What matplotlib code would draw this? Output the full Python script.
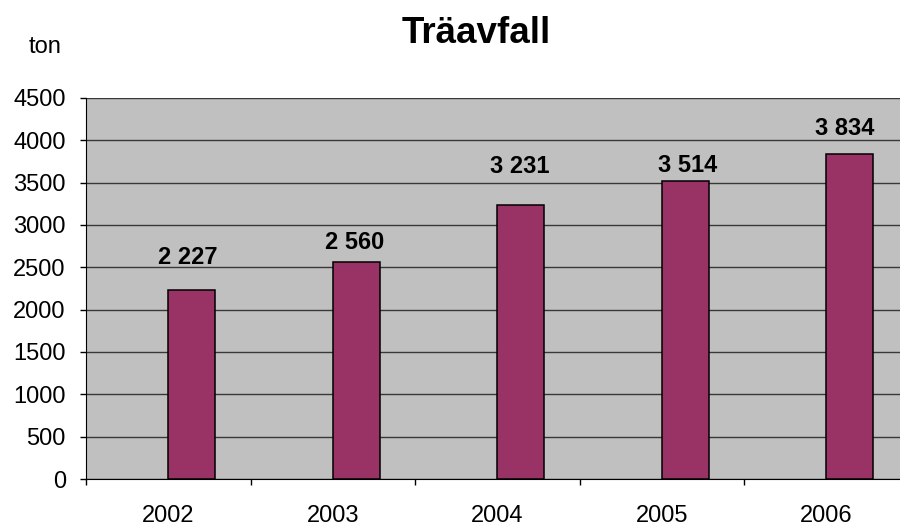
import matplotlib.pyplot as plt
import numpy as np

years = ['2002', '2003', '2004', '2005', '2006']
values = [2227, 2560, 3231, 3514, 3834]
value_labels = ['2 227', '2 560', '3 231', '3 514', '3 834']
yticks = [0, 500, 1000, 1500, 2000, 2500, 3000, 3500, 4000, 4500]

# label placement in the original is uneven (pixels: dx from bar centre, gap above bar)
label_dx = [-4, -2, -1, 2, -5]
label_gap = [26, 13, 32, 9, 19]

plt.rcParams['font.family'] = ['Liberation Sans', 'DejaVu Sans']

fig = plt.figure(figsize=(9, 5.26), dpi=100)
ax = fig.add_axes([86 / 900, 1 - 479 / 526, (908.5 - 86) / 900, (479 - 98) / 526])
ax.set_facecolor('#C0C0C0')

x = np.arange(len(years))
bw = 0.286
ax.bar(x, values, width=bw, align='edge', color='#993366',
       edgecolor='black', linewidth=1.1, zorder=3)

px = 72 / 100  # pixels -> points
for xi, v, lab, dx, gap in zip(x, values, value_labels, label_dx, label_gap):
    ax.annotate(lab, (xi + bw / 2, v), xytext=(dx * px, gap * px),
                textcoords='offset points', ha='center', va='baseline',
                fontsize=17, fontweight='bold')

ax.set_xlim(-0.5, 4.5)
ax.set_ylim(0, 4500)
ax.set_yticks(yticks)
ax.yaxis.grid(True, color='#383838', linewidth=1.0, zorder=1)
ax.set_axisbelow(True)

# ticks at category boundaries, labels at the centres
ax.set_xticks(np.arange(-0.5, 5, 1.0))
ax.set_xticklabels([])
ax.set_xticks(x, minor=True)
ax.set_xticklabels(years, minor=True)
ax.tick_params(axis='x', which='major', length=4.5, width=1, direction='out')
ax.tick_params(axis='x', which='minor', length=0, pad=19, labelsize=17)
ax.tick_params(axis='y', length=4.5, width=1, direction='out', pad=10, labelsize=17)

for side in ['top', 'right']:
    ax.spines[side].set_visible(False)
ax.spines['left'].set_color('black')
ax.spines['bottom'].set_color('black')

fig.text(476.5 / 900, 1 - 43 / 526, 'Träavfall', ha='center', va='baseline',
         fontsize=26.5, fontweight='bold')
fig.text(45 / 900, 1 - 53 / 526, 'ton', ha='center', va='baseline', fontsize=17)

fig.savefig('out.png', dpi=100)
